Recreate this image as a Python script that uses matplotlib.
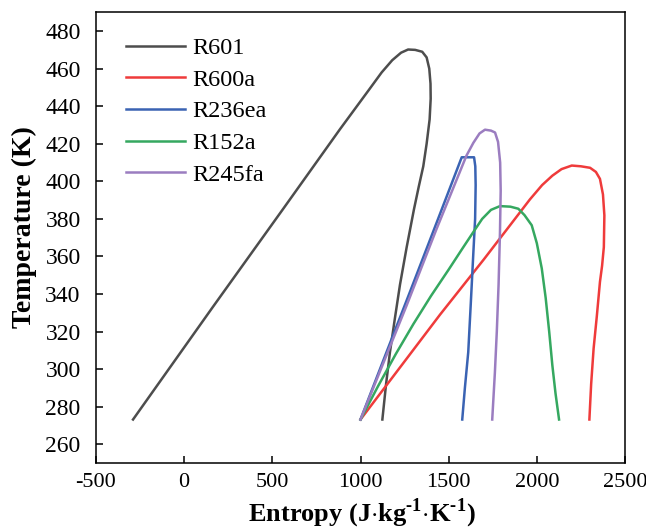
import matplotlib
matplotlib.use('Agg')
import matplotlib.pyplot as plt

plt.rcParams['font.family'] = 'Liberation Serif'
plt.rcParams['mathtext.fontset'] = 'custom'
plt.rcParams['mathtext.rm'] = 'Liberation Serif:bold'
plt.rcParams['mathtext.bf'] = 'Liberation Serif:bold'
plt.rcParams['axes.unicode_minus'] = False

# saturation domes, liquid line up to the top then vapour line down
names = ['R601', 'R600a', 'R236ea', 'R152a', 'R245fa']
colors = ['#4d4d4d', '#ef3b3b', '#3a63b3', '#35a860', '#9b7dc0']

s_r601 = [-290, 162, 562, 884, 1050, 1120, 1180, 1230, 1270, 1310, 1350, 1375, 1390, 1397,
          1398, 1392, 1375, 1356, 1330, 1303, 1262, 1224, 1195, 1167, 1145, 1124]
t_r601 = [273.15, 333, 385.4, 427.8, 449, 458, 464.5, 468.5, 470.2, 470, 469, 466, 460, 452,
          444, 433, 420, 408, 397, 385, 365, 345, 327, 309, 292, 273.15]

s_r600a = [1000, 1451, 1700, 1961, 2030, 2088, 2140, 2198, 2250, 2302, 2335, 2358,
           2375, 2383, 2380, 2370, 2358, 2340, 2322, 2308, 2298]
t_r600a = [273.15, 329, 358.5, 390.4, 398, 403, 406.5, 408.4, 408, 407.2, 405, 401.3,
           393, 381.9, 365, 355, 346.5, 328, 311, 292, 273.15]

s_r236ea = [1000, 1145, 1280, 1440, 1574, 1644, 1651, 1653, 1650, 1640, 1626, 1611, 1592, 1577]
t_r236ea = [273.15, 308.4, 341, 380, 412.8, 412.8, 408, 398, 380, 362, 336, 309, 290, 273.15]

s_r152a = [1000, 1100, 1200, 1300, 1400, 1500, 1580, 1640, 1690, 1740, 1791, 1850, 1895,
           1930, 1971, 2000, 2028, 2050, 2070, 2088, 2106, 2126]
t_r152a = [273.15, 291, 308, 324, 339, 353, 364.5, 373, 380, 384.8, 386.8, 386.5, 385.4,
           382, 376.6, 367, 353.6, 338, 320, 302, 287, 273.15]

s_r245fa = [1000, 1262, 1432, 1601, 1640, 1675, 1706, 1740, 1763, 1780, 1792, 1795,
            1791, 1783, 1773, 1762, 1747]
t_r245fa = [273.15, 334, 374.8, 413.7, 420.5, 425.5, 427.5, 427, 426, 421, 410, 395,
            373, 345, 320, 298, 273.15]

xs = [s_r601, s_r600a, s_r236ea, s_r152a, s_r245fa]
ys = [t_r601, t_r600a, t_r236ea, t_r152a, t_r245fa]

fig = plt.figure(figsize=(6.46, 5.29), dpi=100)
ax = fig.add_axes([0.1486, 0.1248, 0.8189, 0.8519])

for x, y, c, n in zip(xs, ys, colors, names):
    ax.plot(x, y, color=c, lw=1.8, label=n, solid_joinstyle='round')

ax.set_xlim(-500, 2500)
ax.set_ylim(250, 490)
ax.set_xticks([-500, 0, 500, 1000, 1500, 2000, 2500])
ax.set_yticks(range(260, 481, 20))
ax.tick_params(direction='in', length=5, width=1.1, labelsize=17)
ax.tick_params(axis='x', pad=7, labelsize=16)
ax.tick_params(axis='y', pad=11)
for sp in ax.spines.values():
    sp.set_linewidth(1.1)

ax.set_xlabel(r'Entropy (J$\cdot$kg$^{\text{-}1}$$\cdot$K$^{\text{-}1}$)',
              fontsize=19, fontweight='bold')
ax.set_ylabel('Temperature (K)', fontsize=20, fontweight='bold')
ax.xaxis.set_label_coords(0.503, -0.074)
ax.yaxis.set_label_coords(-0.111, 0.5225)

ax.legend(loc='upper left', bbox_to_anchor=(0.025, 0.983), frameon=False, fontsize=17.5,
          handlelength=2.4, handletextpad=0.3, labelspacing=0.4, borderaxespad=0.3)

fig.savefig('out.png', dpi=100)
